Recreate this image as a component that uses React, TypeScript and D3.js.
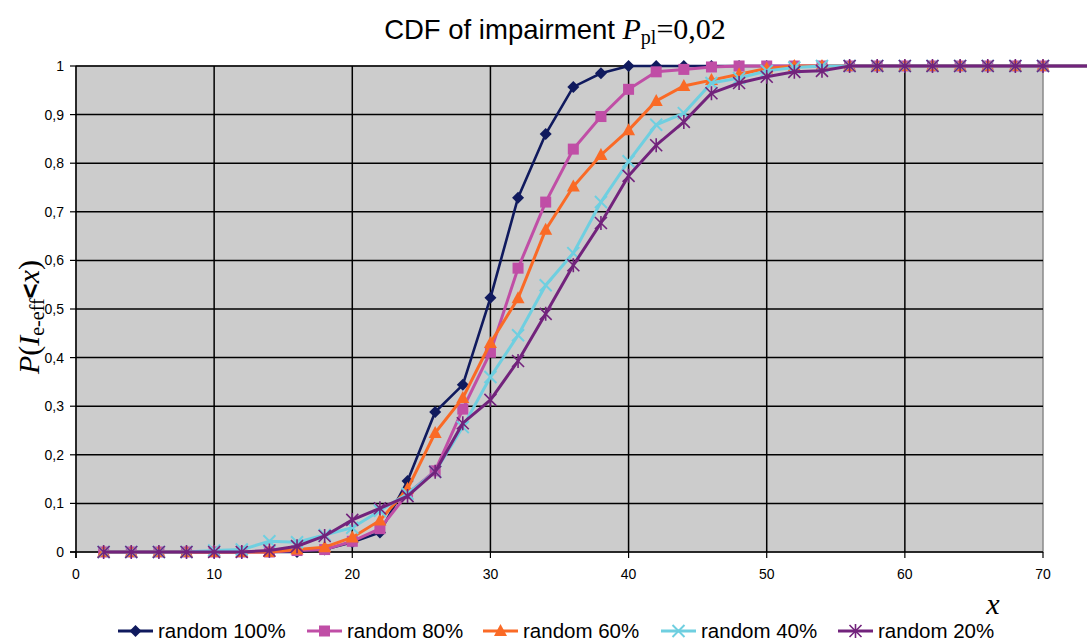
import { useMemo } from "react";
import * as d3 from "d3";

const WIDTH = 1087;
const HEIGHT = 641;
const MARGIN = { top: 66, right: 44, bottom: 89, left: 76 };

// x positions of the samples (2..70), two extra points past the axis end
const xValues = [
  2, 4, 6, 8, 10, 12, 14, 16, 18, 20, 22, 24, 26, 28, 30, 32, 34, 36, 38, 40,
  42, 44, 46, 48, 50, 52, 54, 56, 58, 60, 62, 64, 66, 68, 70, 72, 74,
];

const random100 = [
  0, 0, 0, 0, 0, 0, 0, 0, 0.005, 0.02, 0.04, 0.146, 0.288, 0.344, 0.523, 0.729,
  0.86, 0.957, 0.985, 1, 1, 1, 1, 1, 1, 1, 1, 1, 1, 1, 1, 1, 1, 1, 1, 1, 1,
];
const random80 = [
  0, 0, 0, 0, 0, 0, 0, 0.003, 0.005, 0.022, 0.048, 0.12, 0.167, 0.294, 0.411,
  0.584, 0.72, 0.829, 0.896, 0.952, 0.988, 0.993, 0.998, 1, 1, 1, 1, 1, 1, 1, 1,
  1, 1, 1, 1, 1, 1,
];
const random60 = [
  0, 0, 0, 0, 0, 0, 0, 0.005, 0.01, 0.03, 0.065, 0.13, 0.245, 0.317, 0.43,
  0.522, 0.663, 0.752, 0.817, 0.868, 0.928, 0.959, 0.971, 0.983, 0.995, 1, 1, 1,
  1, 1, 1, 1, 1, 1, 1, 1, 1,
];
const random40 = [
  0, 0, 0, 0, 0.003, 0.005, 0.022, 0.02, 0.035, 0.05, 0.085, 0.12, 0.165, 0.257,
  0.36, 0.446, 0.549, 0.615, 0.72, 0.804, 0.879, 0.903, 0.965, 0.975, 0.99,
  0.997, 1, 1, 1, 1, 1, 1, 1, 1, 1, 1, 1,
];
const random20 = [
  0, 0, 0, 0, 0, 0, 0.003, 0.012, 0.033, 0.066, 0.09, 0.115, 0.165, 0.265,
  0.313, 0.393, 0.49, 0.59, 0.677, 0.774, 0.837, 0.885, 0.944, 0.965, 0.978,
  0.988, 0.99, 1, 1, 1, 1, 1, 1, 1, 1, 1, 1,
];

const seriesNames = ["random 100%", "random 80%", "random 60%", "random 40%", "random 20%"];
const seriesColors = ["#101a5e", "#c04ea6", "#fa6a26", "#6fcfe0", "#72237c"];
const seriesMarkers = ["diamond", "square", "triangle", "cross", "star"];
const seriesValues = [random100, random80, random60, random40, random20];

const xTicks = [0, 10, 20, 30, 40, 50, 60, 70];
const yTicks = [0, 0.1, 0.2, 0.3, 0.4, 0.5, 0.6, 0.7, 0.8, 0.9, 1];

const fmt = (v: number) => String(Math.round(v * 10) / 10).replace(".", ",");

function Marker({ kind, x, y, color }: { kind: string; x: number; y: number; color: string }) {
  if (kind === "diamond") {
    const r = 6;
    return <path d={`M${x},${y - r}L${x + r},${y}L${x},${y + r}L${x - r},${y}Z`} fill={color} />;
  }
  if (kind === "square") {
    return <rect x={x - 5.5} y={y - 5.5} width={11} height={11} fill={color} />;
  }
  if (kind === "triangle") {
    return <path d={`M${x},${y - 7}L${x + 6.5},${y + 5}L${x - 6.5},${y + 5}Z`} fill={color} />;
  }
  if (kind === "cross") {
    const r = 6;
    return (
      <path
        d={`M${x - r},${y - r}L${x + r},${y + r}M${x + r},${y - r}L${x - r},${y + r}`}
        stroke={color}
        strokeWidth={2}
      />
    );
  }
  const r = 6;
  return (
    <path
      d={`M${x - r},${y - r}L${x + r},${y + r}M${x + r},${y - r}L${x - r},${y + r}M${x},${y - r - 1}L${x},${y + r + 1}`}
      stroke={color}
      strokeWidth={1.6}
    />
  );
}

export default function App() {
  const innerW = WIDTH - MARGIN.left - MARGIN.right;
  const innerH = HEIGHT - MARGIN.top - MARGIN.bottom;

  const xScale = useMemo(() => d3.scaleLinear().domain([0, 70]).range([MARGIN.left, MARGIN.left + innerW]), []);
  const yScale = useMemo(() => d3.scaleLinear().domain([0, 1]).range([MARGIN.top + innerH, MARGIN.top]), []);

  const line = d3
    .line<number>()
    .x((_, i) => xScale(xValues[i]))
    .y((d) => yScale(d));

  const x0 = xScale(0);
  const x1 = xScale(70);
  const y0 = yScale(0);
  const y1 = yScale(1);

  const serif = "'Liberation Serif', 'Times New Roman', serif";
  const sans = "'Liberation Sans', Arial, sans-serif";

  const legendX = [118, 307, 483, 661, 838];

  return (
    <svg width={WIDTH} height={HEIGHT} style={{ position: "absolute", left: 0, top: 0, background: "#fff" }}>
      {/* title */}
      <text x={555} y={39} textAnchor="middle" fontFamily={sans} fontSize={27.5} fill="#000">
        CDF of impairment{" "}
        <tspan fontFamily={serif} fontStyle="italic" fontSize={30}>P</tspan>
        <tspan fontFamily={serif} fontSize={20} dy={5}>pl</tspan>
        <tspan fontFamily={serif} fontSize={30} dy={-5}>=0,02</tspan>
      </text>

      {/* plot area */}
      <rect x={x0} y={y1} width={x1 - x0} height={y0 - y1} fill="#cccccc" stroke="#8a8a8a" strokeWidth={1.5} />

      {yTicks.slice(1).map((t) => (
        <line key={"gy" + t} x1={x0} x2={x1} y1={yScale(t)} y2={yScale(t)} stroke="#000" strokeWidth={1.5} />
      ))}
      {xTicks.slice(1, -1).map((t) => (
        <line key={"gx" + t} x1={xScale(t)} x2={xScale(t)} y1={y1} y2={y0} stroke="#000" strokeWidth={1.5} />
      ))}

      {/* axes */}
      <line x1={x0} x2={x0} y1={y1} y2={y0 + 6} stroke="#000" strokeWidth={1.5} />
      <line x1={x0 - 6} x2={x1} y1={y0} y2={y0} stroke="#000" strokeWidth={1.5} />
      {yTicks.map((t) => (
        <g key={"ty" + t}>
          <line x1={x0 - 6} x2={x0} y1={yScale(t)} y2={yScale(t)} stroke="#000" strokeWidth={1.2} />
          <text x={x0 - 12} y={yScale(t) + 5} textAnchor="end" fontFamily={sans} fontSize={14} fill="#000">
            {fmt(t)}
          </text>
        </g>
      ))}
      {xTicks.map((t) => (
        <g key={"tx" + t}>
          <line x1={xScale(t)} x2={xScale(t)} y1={y0} y2={y0 + 6} stroke="#000" strokeWidth={1.2} />
          <text x={xScale(t)} y={y0 + 27} textAnchor="middle" fontFamily={sans} fontSize={14} fill="#000">
            {t}
          </text>
        </g>
      ))}

      {/* series */}
      {seriesValues.map((vals, s) => (
        <g key={seriesNames[s]}>
          <path d={line(vals) || ""} fill="none" stroke={seriesColors[s]} strokeWidth={s === 0 ? 2.6 : 3} />
          {vals.map((v, i) =>
            xValues[i] <= 70 ? (
              <Marker key={i} kind={seriesMarkers[s]} x={xScale(xValues[i])} y={yScale(v)} color={seriesColors[s]} />
            ) : null
          )}
        </g>
      ))}

      {/* axis titles */}
      <text
        transform={`translate(39,317) rotate(-90)`}
        textAnchor="middle"
        fontFamily={serif}
        fontSize={30}
        fill="#000"
      >
        <tspan fontStyle="italic">P</tspan>
        <tspan>(</tspan>
        <tspan fontStyle="italic">I</tspan>
        <tspan fontSize={20} dy={5}>e-eff</tspan>
        <tspan fontFamily={sans} fontWeight="bold" fontSize={26} dy={-5}>&lt;</tspan>
        <tspan fontStyle="italic">x</tspan>
        <tspan>)</tspan>
      </text>
      <text x={993} y={614} textAnchor="middle" fontFamily={serif} fontStyle="italic" fontSize={30} fill="#000">
        x
      </text>

      {/* legend */}
      {seriesNames.map((name, s) => (
        <g key={"lg" + name}>
          <line x1={legendX[s]} x2={legendX[s] + 35} y1={631} y2={631} stroke={seriesColors[s]} strokeWidth={3} />
          <Marker kind={seriesMarkers[s]} x={legendX[s] + 17.5} y={631} color={seriesColors[s]} />
          <text x={legendX[s] + 40} y={637.5} fontFamily={sans} fontSize={20.5} fill="#000">
            {name}
          </text>
        </g>
      ))}
    </svg>
  );
}
